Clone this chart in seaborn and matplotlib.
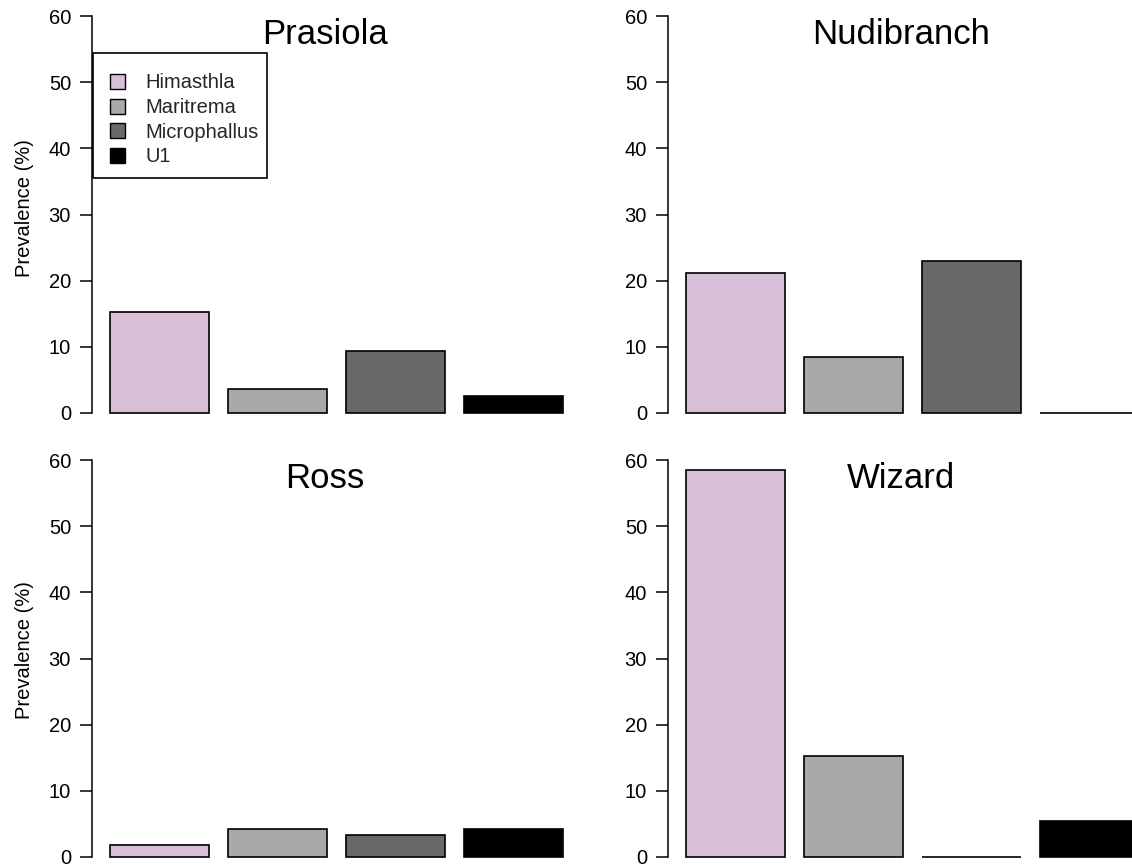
import matplotlib
matplotlib.use("Agg")
import matplotlib.pyplot as plt
from matplotlib.patches import Patch, Rectangle
from matplotlib.legend_handler import HandlerPatch
import seaborn as sns
import pandas as pd

# Parasite prevalence (%) at each collection site
parasites = ["Himasthla", "Maritrema", "Microphallus", "U1"]
sites = ["Prasiola", "Nudibranch", "Ross", "Wizard"]
prasiola = [15.2, 3.7, 9.4, 2.5]
nudibranch = [21.2, 8.4, 22.9, 0.0]
ross = [1.8, 4.2, 3.4, 4.3]
wizard = [58.5, 15.2, 0.0, 5.4]
colors = ["#D8BFD8", "#A9A9A9", "#696969", "#000000"]
yticks = [0, 10, 20, 30, 40, 50, 60]

sns.set_theme(style="white")
plt.rcParams["font.family"] = ["Liberation Sans", "DejaVu Sans"]

W, H = 1132, 867
fig = plt.figure(figsize=(W / 100, H / 100), dpi=100)

# panel geometry in pixels: (left edge, pixel of y=0)
px_per_unit = 397 / 60.0
panel_w = 489
ylo, yhi = -2.4, 62.4
layout = [(92, 413), (668, 413), (92, 857), (668, 857)]
values = [prasiola, nudibranch, ross, wizard]

axes = []
for (left, zero_px), site, vals in zip(layout, sites, values):
    top_px = zero_px - yhi * px_per_unit
    bot_px = zero_px - ylo * px_per_unit
    ax = fig.add_axes([left / W, 1 - bot_px / H, panel_w / W, (bot_px - top_px) / H])
    df = pd.DataFrame({"parasite": parasites, "prevalence": vals})
    sns.barplot(data=df, x="parasite", y="prevalence", hue="parasite",
                palette=colors, width=0.833, edgecolor="black",
                linewidth=1.2, legend=False, ax=ax, saturation=1)
    ax.set_xlim(-0.57, 3.57)
    ax.set_ylim(ylo, yhi)
    for s in ["top", "right", "bottom"]:
        ax.spines[s].set_visible(False)
    ax.spines["left"].set_bounds(0, 60)
    ax.spines["left"].set_linewidth(1.1)
    ax.spines["left"].set_color("black")
    ax.set_xticks([])
    ax.set_yticks(yticks)
    ax.tick_params(axis="y", left=True, length=8.6, width=1.1, pad=6.5,
                   labelsize=14.5, colors="black")
    ax.set_xlabel("")
    ax.set_ylabel("")
    ax.text(0.476, 0.897, site, transform=ax.transAxes, ha="center",
            va="baseline", fontsize=25, color="black")
    axes.append(ax)

# shared y-axis labels on the left column
for yc in (208, 650):
    fig.text(24 / W, 1 - yc / H, "Prevalence (%)", rotation=90,
             ha="center", va="center", fontsize=14.5, color="black")


def square_patch(legend, orig_handle, xdescent, ydescent, width, height, fontsize):
    s = 0.75 * fontsize
    return Rectangle((-xdescent + width - s, -ydescent + (height - s) / 2), s, s)


# legend box drawn in figure pixels, entries placed inside it
ax0 = axes[0]
box = Rectangle((93 / W, 1 - 178 / H), 174 / W, 125 / H,
                transform=fig.transFigure, facecolor="white",
                edgecolor="black", linewidth=1.2, zorder=4, clip_on=False)
ax0.add_patch(box)

handles = [Patch(facecolor=c, edgecolor="black", linewidth=1.0) for c in colors]
leg = ax0.legend(handles, parasites, loc="upper left",
                 bbox_to_anchor=(107 / W, 1 - 73.5 / H),
                 bbox_transform=fig.transFigure,
                 borderaxespad=0, fontsize=14.5, handlelength=0.9,
                 handleheight=0.75, handletextpad=1.0, borderpad=0,
                 labelspacing=0.28, frameon=False,
                 handler_map={Patch: HandlerPatch(patch_func=square_patch)})
leg.set_zorder(5)

fig.savefig("out.png", dpi=100)
